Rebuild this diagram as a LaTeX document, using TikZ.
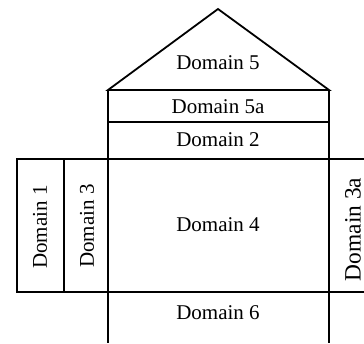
\documentclass[tikz,border=0pt]{standalone}
\usepackage{fontspec}
\setmainfont{Liberation Serif}
\begin{document}
\begin{tikzpicture}[x=0.5pt,y=-0.5pt,
  wall/.style={line width=0.9pt,line join=miter},
  lbl/.style={font=\fontsize{10.5}{12}\selectfont,inner sep=0pt},
  vlbl/.style={lbl,rotate=90}]
\useasboundingbox (0,0) rectangle (364,343);
% key corners of the layout
\coordinate (apex) at (218,9);
\coordinate (roofL) at (108,90);
\coordinate (roofR) at (329,90);
\coordinate (midL) at (108,122);
\coordinate (midR) at (329,122);
\coordinate (topL) at (17,159);
\coordinate (topR) at (364,159);
\coordinate (botL) at (17,292);
\coordinate (botR) at (364,292);
% roof
\draw[wall] (roofL) -- (apex) -- (roofR) -- cycle;
% central column running to the lower edge
\draw[wall] (roofL) -- (108,343);
\draw[wall] (roofR) -- (329,343);
\draw[wall] (midL) -- (midR);
% wide band holding domains 1, 3, 4 and 3a
\draw[wall] (topR) -- (topL) -- (botL) -- (botR);
\draw[wall] (64,159) -- (64,292);
% labels
\node[lbl] (d5)  at (218,63)  {Domain 5};
\node[lbl] (d5a) at (218,107) {Domain 5a};
\node[lbl] (d2)  at (218,140) {Domain 2};
\node[lbl] (d4)  at (218,225) {Domain 4};
\node[lbl] (d6)  at (218,313) {Domain 6};
\node[vlbl] (d1)  at (40,227)  {Domain 1};
\node[vlbl] (d3)  at (87,226)  {Domain 3};
\node[vlbl,font=\fontsize{11.7}{13}\selectfont] (d3a) at (353,229.5) {Domain 3a};
\end{tikzpicture}
\end{document}
